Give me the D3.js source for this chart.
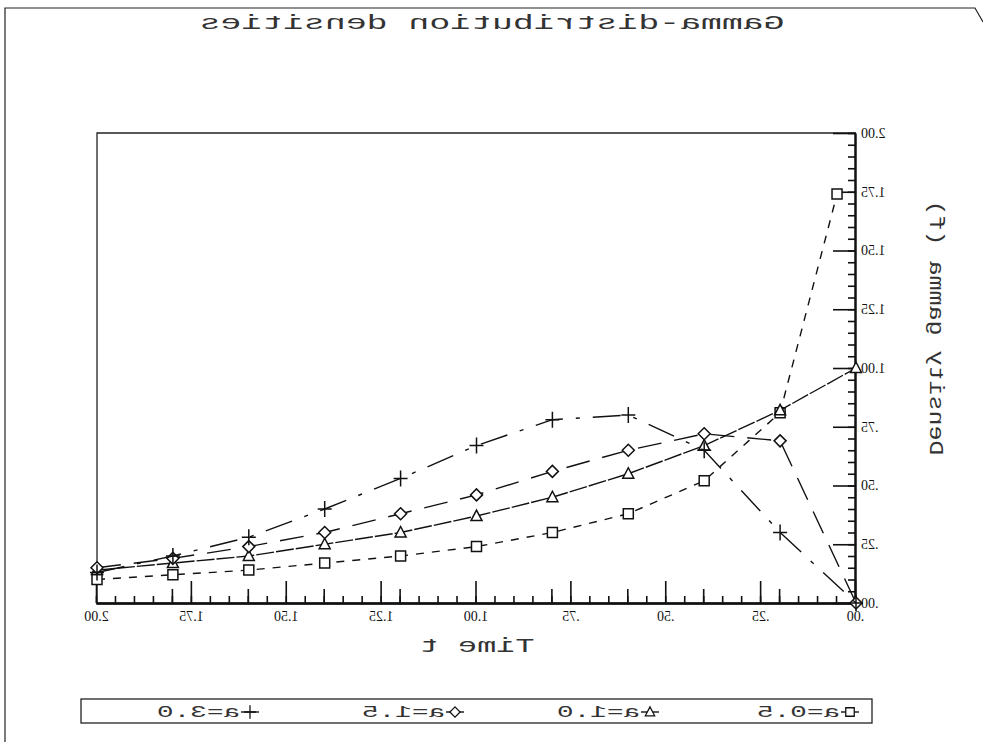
<!DOCTYPE html>
<html>
<head>
<meta charset="utf-8">
<script src="https://cdn.jsdelivr.net/npm/d3@7"></script>
<style>
  body { margin: 0; background: #fff; }
  svg { display: block; }
</style>
</head>
<body>
<div id="ui"></div>
<script>
var times   = [2.0, 1.8, 1.6, 1.4, 1.2, 1.0, 0.8, 0.6, 0.4, 0.2, 0.0];
var times05 = [2.0, 1.8, 1.6, 1.4, 1.2, 1.0, 0.8, 0.6, 0.4, 0.2, 0.05];
var gA05 = [0.10, 0.12, 0.14, 0.17, 0.20, 0.24, 0.30, 0.38, 0.52, 0.81, 1.74];
var gA10 = [0.14, 0.17, 0.20, 0.25, 0.30, 0.37, 0.45, 0.55, 0.67, 0.82, 1.00];
var gA15 = [0.15, 0.19, 0.24, 0.30, 0.38, 0.46, 0.56, 0.65, 0.72, 0.69, 0.00];
var gA30 = [0.13, 0.20, 0.28, 0.40, 0.53, 0.67, 0.78, 0.80, 0.65, 0.30, 0.00];
var seriesNames = ["a=0.5", "a=1.0", "a=1.5", "a=3.0"];
var tickVals = [0, 0.25, 0.5, 0.75, 1, 1.25, 1.5, 1.75, 2];
var tickLabels = [".00", ".25", ".50", ".75", "1.00", "1.25", "1.50", "1.75", "2.00"];

var w = 983, h = 742;
var mono = "'Liberation Mono','DejaVu Sans Mono',monospace";

var x = d3.scaleLinear().domain([0, 2]).range([127, 886]);
var y = d3.scaleLinear().domain([0, 2]).range([603, 133]);

var svg = d3.select("#ui").append("svg")
    .attr("width", w).attr("height", h);

// the whole picture is a mirror image, so draw normally and flip
var g = svg.append("g").attr("transform", "translate(" + w + ",0) scale(-1,1)");

// outer frame
g.append("path")
    .attr("d", "M0,22 L8,8 L978,8 L978," + h)
    .attr("fill", "none").attr("stroke", "#222").attr("stroke-width", 1.2);

// title
g.append("text")
    .attr("x", 491).attr("y", 29)
    .attr("text-anchor", "middle")
    .attr("font-family", mono).attr("font-size", 21)
    .attr("textLength", 585).attr("lengthAdjust", "spacingAndGlyphs")
    .attr("fill", "#333")
    .text("Gamma-distribution densities");

// plot frame (top and far side)
g.append("path")
    .attr("d", "M" + x(0) + "," + y(2) + " L" + x(2) + "," + y(2) + " L" + x(2) + "," + y(0))
    .attr("fill", "none").attr("stroke", "#222").attr("stroke-width", 1.3);

var fmt = function(d) { return tickLabels[tickVals.indexOf(d)]; };
var minor = d3.range(0, 41).map(function(i) { return i * 0.05; });
var medium = [0.2, 0.4, 0.6, 0.8, 1.2, 1.4, 1.6, 1.8];

// x axis
var gx = g.append("g").attr("transform", "translate(0," + y(0) + ")");
gx.call(d3.axisBottom(x).tickValues(minor).tickSizeInner(-7).tickSizeOuter(0).tickFormat(""));
gx.append("g").call(d3.axisBottom(x).tickValues(medium).tickSizeInner(-14).tickSizeOuter(0).tickFormat(""));
gx.append("g").attr("class", "major")
    .call(d3.axisBottom(x).tickValues(tickVals).tickSizeInner(-22).tickSizeOuter(0).tickPadding(8).tickFormat(fmt));

// y axis
var gy = g.append("g").attr("transform", "translate(" + x(0) + ",0)");
gy.call(d3.axisLeft(y).tickValues(minor).tickSizeInner(-8).tickSizeOuter(0).tickFormat(""));
gy.append("g").attr("class", "major")
    .call(d3.axisLeft(y).tickValues(tickVals).tickSizeInner(-23).tickSizeOuter(0).tickPadding(5).tickFormat(fmt));

g.selectAll(".domain").attr("stroke", "#111").attr("stroke-width", 2);
g.selectAll(".tick line").attr("stroke", "#111").attr("stroke-width", 1.6);
g.selectAll(".major text")
    .attr("font-family", "'Liberation Serif','DejaVu Serif',serif")
    .attr("font-size", 14).attr("fill", "#111");

// axis titles
g.append("text")
    .attr("x", 506).attr("y", 652)
    .attr("text-anchor", "middle")
    .attr("font-family", mono).attr("font-size", 20)
    .attr("textLength", 115).attr("lengthAdjust", "spacingAndGlyphs")
    .attr("fill", "#333")
    .text("Time t");

g.append("text")
    .attr("transform", "translate(53,328) rotate(-90)")
    .attr("text-anchor", "middle")
    .attr("font-family", mono).attr("font-size", 21)
    .attr("textLength", 255).attr("lengthAdjust", "spacingAndGlyphs")
    .attr("fill", "#333")
    .text("Density gamma (f)");

// series
var series = [
    { name: seriesNames[0], t: times05, v: gA05, dash: "8,8", mark: "square" },
    { name: seriesNames[1], t: times,   v: gA10, dash: "18,2", mark: "triangle" },
    { name: seriesNames[2], t: times,   v: gA15, dash: "24,13", mark: "diamond" },
    { name: seriesNames[3], t: times,   v: gA30, dash: "28,13,4,13", mark: "plus" }
];

var line = d3.line().x(function(d) { return x(d[0]); }).y(function(d) { return y(d[1]); });

function marker(sel, kind) {
    sel.attr("fill", kind === "plus" ? "none" : "#fff")
       .attr("stroke", "#111").attr("stroke-width", 1.5);
    if (kind === "square") sel.attr("d", "M-5,-5H5V5H-5Z");
    if (kind === "triangle") sel.attr("d", "M0,-6L5.5,4.5H-5.5Z");
    if (kind === "diamond") sel.attr("d", "M0,-6L6,0L0,6L-6,0Z");
    if (kind === "plus") sel.attr("d", "M-7,0H7M0,-8V8");
}

series.forEach(function(s) {
    var pts = s.t.map(function(t, i) { return [t, s.v[i]]; });
    g.append("path").datum(pts)
        .attr("d", line)
        .attr("fill", "none").attr("stroke", "#111").attr("stroke-width", 1.4)
        .attr("stroke-dasharray", s.dash);
    g.selectAll(null).data(pts).enter().append("path")
        .attr("transform", function(d) { return "translate(" + x(d[0]) + "," + y(d[1]) + ")"; })
        .call(marker, s.mark);
});

// legend
var lg = g.append("g");
lg.append("rect")
    .attr("x", 111).attr("y", 699).attr("width", 791).attr("height", 24)
    .attr("fill", "none").attr("stroke", "#222").attr("stroke-width", 1.3);
var legX = [133, 333, 528, 733];
series.forEach(function(s, i) {
    var cx = legX[i], cy = 711;
    lg.append("line")
        .attr("x1", cx - 9).attr("x2", cx + 9).attr("y1", cy + 1).attr("y2", cy + 1)
        .attr("stroke", "#111").attr("stroke-width", 1.4);
    lg.append("path").attr("transform", "translate(" + cx + "," + (cy + 1) + ") scale(0.85)")
        .call(marker, s.mark);
    lg.append("text")
        .attr("x", cx + 10).attr("y", cy + 6)
        .attr("font-family", mono).attr("font-size", 16)
        .attr("textLength", 83).attr("lengthAdjust", "spacingAndGlyphs")
        .attr("fill", "#333")
        .text(s.name);
});
</script>
</body>
</html>
